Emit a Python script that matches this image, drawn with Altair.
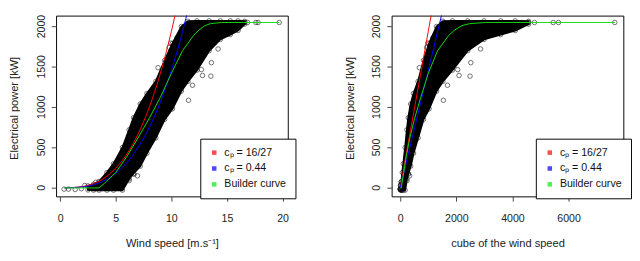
import altair as alt
import pandas as pd

# ---- data ----
# dense cloud of observations: upper / lower envelope at given wind speeds
band_v = [2.5, 3.0, 3.5, 4.2, 4.8, 5.6, 6.2, 6.6, 7.2, 7.8, 8.6, 9.4, 10.1, 10.9, 11.5, 12.3, 13.4, 14.4, 15.3, 16.0, 16.6]
band_hi = [25, 45, 80, 190, 300, 500, 720, 870, 1040, 1170, 1320, 1580, 1790, 2000, 2065, 2070, 2070, 2070, 2070, 2070, 2065]
band_lo = [-25, -28, -28, -28, -28, -28, 111, 180, 270, 430, 620, 850, 980, 1200, 1320, 1460, 1700, 1840, 1900, 1950, 2030]

# isolated observations (wind speed m/s, power kW)
out_v = [0.35, 0.75, 1.35, 1.9, 2.2, 3.2, 6.2, 6.65, 6.95, 8.8, 9.8, 9.95, 10.5, 11.1,
         11.54, 11.9, 12.7, 12.8, 13.55, 13.6, 13.85, 14.2, 16.3, 16.6, 16.85, 17.6, 17.8, 19.7]
out_p = [-15, -15, -20, -10, 30, 70, 90, 170, 150, 1490, 1742, 1795, 1860, 1981,
         1086, 1272, 1466, 1393, 1385, 1552, 1795, 1722, 2050, 2050, 2050, 2050, 2050, 2050]

# theoretical curves and builder curve
red_v = [0.4, 2, 3, 4, 5, 6, 7, 8, 9, 10, 10.6]
red_p = [0, 16, 52, 125, 245, 420, 665, 995, 1415, 1940, 2310]
blue_v = [0.4, 2, 3, 4, 5, 6, 7, 8, 9, 10, 11, 11.6]
blue_p = [0, 12, 39, 93, 182, 315, 500, 745, 1060, 1455, 1935, 2270]
green_v = [0.35, 3.5, 4.0, 5.0, 6.0, 7.0, 8.0, 9.0, 10.0, 11.0, 12.0, 12.5, 13.0, 13.5, 14.5, 19.7]
green_p = [0, 0, 60, 190, 390, 620, 860, 1120, 1420, 1700, 1890, 1960, 2010, 2035, 2050, 2050]

legend_labels = ["c\u209a = 16/27", "c\u209a = 0.44", "Builder curve"]
legend_colors = ["#ff0000", "#0000ff", "#00ee00"]

y_ticks = [0, 500, 1000, 1500, 2000]
x_ticks_left = [0, 5, 10, 15, 20]
x_ticks_right = [0, 2000, 4000, 6000]

# ---- tables ----
band_df = pd.DataFrame({"v": band_v, "hi": band_hi, "lo": band_lo})
edge_df = pd.DataFrame({"v": band_v + band_v, "p": band_hi + band_lo})
out_df = pd.DataFrame({"v": out_v, "p": out_p})
red_df = pd.DataFrame({"v": red_v, "p": red_p})
blue_df = pd.DataFrame({"v": blue_v, "p": blue_p})
green_df = pd.DataFrame({"v": green_v, "p": green_p})
leg_df = pd.DataFrame({"lab": legend_labels})
ytick_df = pd.DataFrame({"p": y_ticks})

W, H = 241, 188
FONT = "Liberation Sans"


def panel(expr, xdom, xvals, xtitle):
    xs = alt.Scale(domain=xdom, nice=False, zero=False)
    ys = alt.Scale(domain=[-105, 2135], nice=False, zero=False)
    xax = alt.Axis(values=xvals, format="d", title=xtitle, titleX=W / 2, titleY=52,
                   titleAlign="center", titleBaseline="alphabetic",
                   labelPadding=12, labelFlush=False)
    yax = alt.Axis(values=y_ticks, labels=False, title="Electrical power [kW]",
                   titleAngle=270, titleX=-40, titleY=96, titleAlign="center",
                   titleBaseline="alphabetic")
    X = alt.X("x:Q", scale=xs, axis=xax)
    Yp = alt.Y("p:Q", scale=ys, axis=yax)

    band = alt.Chart(band_df).transform_calculate(x=expr).mark_area(
        color="black", stroke="black", strokeWidth=2, clip=True
    ).encode(x=X, y=alt.Y("hi:Q", scale=ys, axis=yax), y2="lo:Q")
    edge = alt.Chart(edge_df).transform_calculate(x=expr).mark_point(
        shape="circle", filled=False, color="black", size=22, strokeWidth=0.8, clip=True
    ).encode(x=X, y=Yp)
    outl = alt.Chart(out_df).transform_calculate(x=expr).mark_point(
        shape="circle", filled=False, color="black", size=22, strokeWidth=0.8, clip=True
    ).encode(x=X, y=Yp)
    red = alt.Chart(red_df).transform_calculate(x=expr).mark_line(
        color=legend_colors[0], strokeWidth=1, clip=True, interpolate="monotone"
    ).encode(x=X, y=Yp)
    blue = alt.Chart(blue_df).transform_calculate(x=expr).mark_line(
        color=legend_colors[1], strokeWidth=1, clip=True, interpolate="monotone"
    ).encode(x=X, y=Yp)
    green = alt.Chart(green_df).transform_calculate(x=expr).mark_line(
        color="#11dd11", strokeWidth=1, clip=True
    ).encode(x=X, y=Yp)
    ylab = alt.Chart(ytick_df).mark_text(
        angle=270, align="center", baseline="middle", font=FONT, fontSize=11,
        color="#222"
    ).encode(y=Yp, x=alt.value(-15), text=alt.Text("p:Q", format="d"))
    leg = alt.Chart(leg_df).mark_square(size=0, filled=True, strokeWidth=0).encode(
        color=alt.Color("lab:N", sort=legend_labels,
                        scale=alt.Scale(domain=legend_labels, range=legend_colors),
                        legend=alt.Legend(orient="none", legendX=150, legendY=128,
                                          title=None, symbolType="square", symbolSize=22,
                                          symbolStrokeWidth=0, labelFontSize=11,
                                          labelFont=FONT, labelColor="#111",
                                          labelOffset=5, rowPadding=4.5, padding=9,
                                          strokeColor="black", fillColor="white",
                                          cornerRadius=0))
    )
    return alt.layer(band, edge, outl, red, blue, green, ylab, leg).properties(width=W, height=H)


left = panel("datum.v", [-0.37, 20.47], x_ticks_left, "Wind speed [m.s\u207b\u00b9]")
right = panel("pow(datum.v, 3)", [-306, 7951], x_ticks_right, "cube of the wind speed")

chart = alt.hconcat(left, right, spacing=49).resolve_scale(
    x="independent", y="independent", color="independent"
).resolve_legend(color="independent").properties(
    padding={"left": 0, "right": 0, "top": 1, "bottom": 0}
).configure_view(stroke="black", strokeWidth=1).configure_axis(
    domain=False, grid=False, tickColor="#444", tickSize=5, tickWidth=1,
    labelFont=FONT, labelFontSize=11, labelColor="#222",
    titleFont=FONT, titleFontSize=11.5, titleFontWeight="normal", titleColor="#222"
)

chart.save("out.html", embed_options={"renderer": "svg", "actions": False})
